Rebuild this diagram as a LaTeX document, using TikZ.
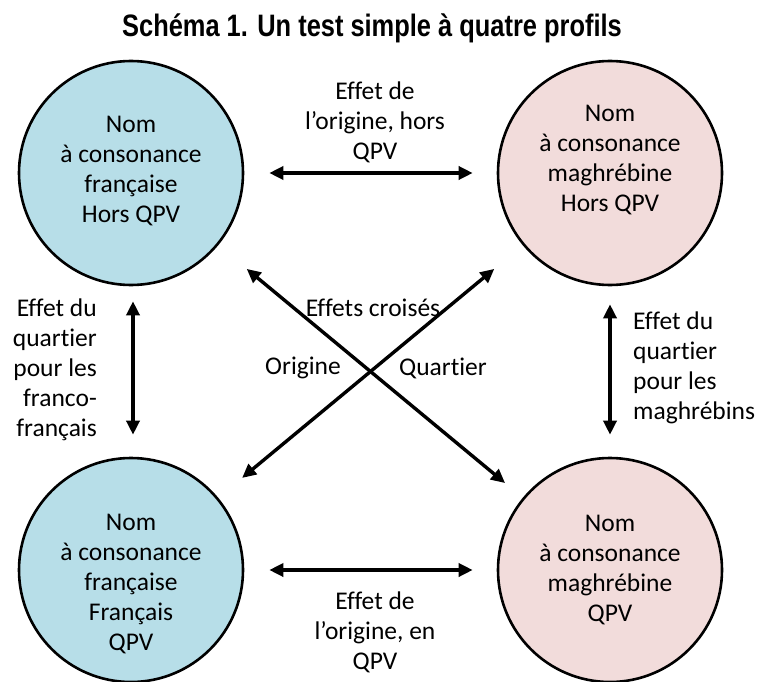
\documentclass[tikz,border=0pt]{standalone}
\usepackage{fontspec}
\usepackage{graphicx}
\setmainfont{Carlito}[Ligatures=NoCommon]
\newfontfamily\titlefont{Liberation Sans}
\usetikzlibrary{arrows.meta,calc}
\definecolor{cblue}{HTML}{B7DEE8}
\definecolor{cpink}{HTML}{F2DCDB}
\begin{document}
\begin{tikzpicture}[x=1pt,y=-1pt,
  circ/.style={circle,draw=black,line width=2.6pt,minimum size=224pt,inner sep=0pt},
  txt/.style={align=center,font=\fontsize{25.5}{30}\selectfont,inner sep=0pt},
  arr/.style={line width=3.4pt,{Triangle[length=14pt,width=13pt]}-{Triangle[length=14pt,width=13pt]}}
]
\useasboundingbox (0,0) rectangle (757,682);
\node[inner sep=0pt] (title) at (372,28) {\scalebox{0.82}[1]{\titlefont\bfseries\fontsize{31}{36}\selectfont Schéma 1. Un test simple à quatre profils}};
\node[circ,fill=cblue] (tl) at (131,173) {};
\node[circ,fill=cpink] (tr) at (610,173) {};
\node[circ,fill=cblue] (bl) at (131,570) {};
\node[circ,fill=cpink] (br) at (610,570) {};
\node[txt] (tlt) at (131,171) {Nom\\à consonance\\française\\Hors QPV};
\node[txt] (trt) at (610,160) {Nom\\à consonance\\maghrébine\\Hors QPV};
\node[txt] (blt) at (131,584) {Nom\\à consonance\\française\\Français\\QPV};
\node[txt] (brt) at (610,570) {Nom\\à consonance\\maghrébine\\QPV};
% arrows
\draw[arr,shorten <=25pt,shorten >=24pt] (tl) -- (tr);
\draw[arr,shorten <=25pt,shorten >=24pt] (bl) -- (br);
\draw[arr,shorten <=15pt,shorten >=22pt] ([xshift=2pt]tl.south) -- ([xshift=2pt]bl.north);
\draw[arr,shorten <=18pt,shorten >=22pt] (tr.south) -- (br.north);
\draw[arr,shorten <=37pt,shorten >=23pt] (tl) -- (br);
\draw[arr,shorten <=37pt,shorten >=31pt] (tr) -- (bl);
% labels
\node[txt] (lt) at (375,122) {Effet de\\l’origine, hors\\QPV};
\node[txt] (lb) at (375,632) {Effet de\\l’origine, en\\QPV};
\node[txt,align=right,anchor=east] (ll) at (97,370) {Effet du\\quartier\\pour les\\franco-\\français};
\node[txt,align=left,anchor=west] (lr) at (633,368) {Effet du\\quartier\\pour les\\maghrébins};
\node[txt] (lc) at (373,308) {Effets croisés};
\node[txt] (lo) at (303,368) {Origine};
\node[txt] (lq) at (443,368) {Quartier};
\end{tikzpicture}
\end{document}
